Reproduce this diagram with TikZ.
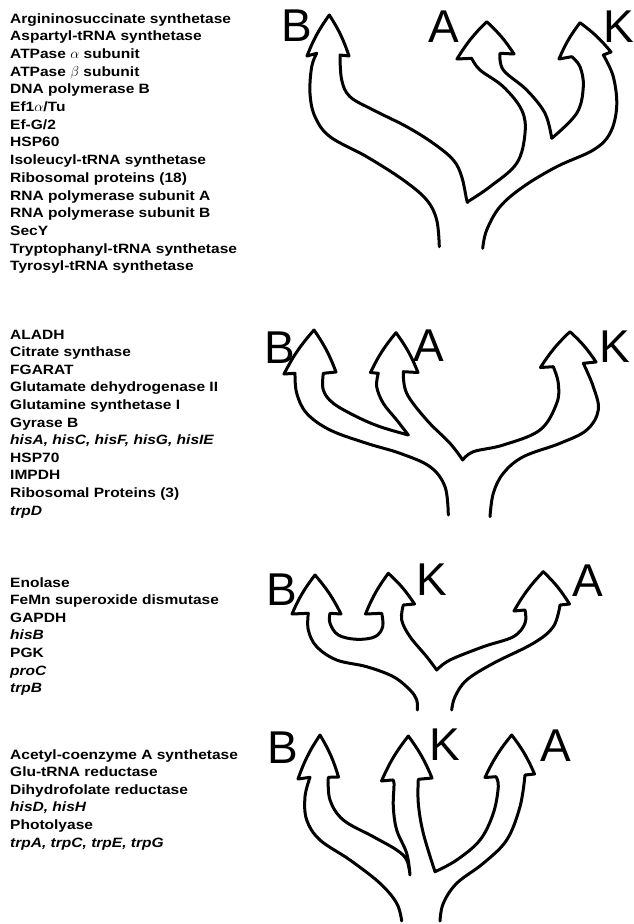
\documentclass[tikz,border=0pt]{standalone}
\usepackage{fontspec}
\setmainfont{Liberation Sans}
\newfontfamily\listfont[FakeStretch=1.15]{Liberation Sans}
\tikzset{
  lst/.style={anchor=base west, inner sep=0pt, font=\listfont\bfseries\fontsize{13.5}{16}\selectfont},
  lbl/.style={inner sep=0pt, font=\fontsize{46}{50}\selectfont},
  br/.style={line width=3pt, line join=round, line cap=round},
  sm/.style={smooth, tension=0.6},
  cv/.style={bend left=7}
}
\begin{document}
\begin{tikzpicture}[x=1pt,y=-1pt]
\useasboundingbox[fill=white] (0,0) rectangle (634,924);

% ---------- lists ----------
\foreach \t [count=\i from 0] in {Argininosuccinate synthetase, Aspartyl-tRNA synthetase, ATPase $\alpha$ subunit, ATPase $\beta$ subunit, DNA polymerase B, Ef1$\alpha$/Tu, Ef-G/2, HSP60, Isoleucyl-tRNA synthetase, Ribosomal proteins (18), RNA polymerase subunit A, RNA polymerase subunit B, SecY, Tryptophanyl-tRNA synthetase, Tyrosyl-tRNA synthetase}
  \node[lst] (la\i) at (10,{23+\i*17.7}) {\t};

\foreach \t [count=\i from 0] in {ALADH, Citrate synthase, FGARAT, Glutamate dehydrogenase II, Glutamine synthetase I, Gyrase B, {\textit{hisA, hisC, hisF, hisG, hisIE}}, HSP70, IMPDH, Ribosomal Proteins (3), \textit{trpD}}
  \node[lst] (lb\i) at (10,{339+\i*17.6}) {\t};

\foreach \t [count=\i from 0] in {Enolase, FeMn superoxide dismutase, GAPDH, \textit{hisB}, PGK, \textit{proC}, \textit{trpB}}
  \node[lst] (lc\i) at (10,{587+\i*17.6}) {\t};

\foreach \t [count=\i from 0] in {Acetyl-coenzyme A synthetase, Glu-tRNA reductase, Dihydrofolate reductase, {\textit{hisD, hisH}}, Photolyase, {\textit{trpA, trpC, trpE, trpG}}}
  \node[lst] (ld\i) at (10,{759+\i*17.6}) {\t};

% ---------- tree 1 ----------
\node[lbl] (t1B) at (297,26) {B};
\node[lbl] (t1A) at (444,27) {A};
\node[lbl] (t1K) at (619,27) {K};
\draw[br] plot[sm] coordinates {(439.3,246.7) (436.7,220) (426.7,200) (403.3,180) (366.7,156.7) (330,136.7) (315,116.7) (310,93.3) (311.7,66.7) (316.7,53.3)}
  -- (307,56) to[cv] (329.3,15) to[cv] (349,56) -- (340,55)
  -- plot[sm] coordinates {(340,55) (341.7,80) (350,96.7) (373.3,110) (406.7,126.7) (433.3,143.3) (453.3,160) (461.7,176.7) (466.7,200) (467.7,201.7)}
  -- plot[sm] coordinates {(467.7,201.7) (490,186.7) (516.7,163.3) (525,133.3) (521.7,110) (503.3,86.7) (480,70) (471.7,58.3)}
  -- (457,59) to[cv] (486.7,21.7) to[cv] (514,54) -- (500,53.3)
  -- plot[sm] coordinates {(500,53.3) (503.3,70) (526.7,90) (545,113.3) (551.7,138.3)}
  -- plot[sm] coordinates {(551.7,138.3) (576.7,113.3) (583.3,86.7) (580,66.7) (571.7,56.7)}
  -- (559,59) to[cv] (580,22.7) to[cv] (611,52) -- (603.3,55)
  -- plot[sm] coordinates {(603.3,55) (613.3,76.7) (616.7,106.7) (610,133.3) (593.3,150) (556.7,166.7) (523.3,186.7) (500,206.7) (486.7,230) (482.7,248.3)};

% ---------- tree 2 ----------
\node[lbl] (t2B) at (280,348) {B};
\node[lbl] (t2A) at (429,346) {A};
\node[lbl] (t2K) at (615,347) {K};
\draw[br] plot[sm] coordinates {(448.3,515) (445,486.7) (430,466.7) (400,453.3) (366.7,443.3) (330,430) (306.7,413.3) (296.7,393.3) (295,373.3)}
  -- (284,374) to[cv] (314,330) to[cv] (336,372) -- (323.3,373.3)
  -- plot[sm] coordinates {(323.3,373.3) (323.3,390) (333.3,403.3) (356.7,416.7) (380,426.7) (408.3,435)}
  -- plot[sm] coordinates {(408.3,435) (396.7,420) (383.3,403.3) (376.7,386.7) (378.3,373.3)}
  -- (370.5,372.5) to[cv] (396,332.7) to[cv] (418,372.5) -- (403.3,371.7)
  -- plot[sm] coordinates {(403.3,371.7) (406.7,393.3) (426.7,420) (450,443.3) (462.7,460)}
  -- plot[sm] coordinates {(462.7,460) (473.3,451.7) (503.3,445) (540,430) (556.7,403.3) (558.3,383.3) (553.3,366.7)}
  -- (540.5,367.5) to[cv] (570,331.7) to[cv] (596,362) -- (583.3,363.3)
  -- plot[sm] coordinates {(583.3,363.3) (593.3,386.7) (598.3,410) (586.7,430) (560,443.3) (523.3,456.7) (503.3,473.3) (493.3,493.3) (490,516.7)};

% ---------- tree 3 ----------
\node[lbl] (t3B) at (282,590) {B};
\node[lbl] (t3K) at (432,580) {K};
\node[lbl] (t3A) at (588,581) {A};
\draw[br] plot[sm] coordinates {(417.3,710) (416.7,700) (410,690) (393.3,676.7) (366.7,666.7) (336.7,660) (316.7,646.7) (308.3,630) (308.3,613.3)}
  -- (292,614) to[cv] (315,575) to[cv] (341,614) -- (330,613.3)
  -- plot[sm] coordinates {(330,613.3) (330,623.3) (338.3,635) (356.7,639.3) (375,636.7) (382.7,626.7) (381.7,613.3)}
  -- (365.5,614) to[cv] (388.3,573.3) to[cv] (414.5,604) -- (403.3,605)
  -- plot[sm] coordinates {(403.3,605) (401.7,620) (410,636.7) (426.7,656.7) (436.7,670)}
  -- plot[sm] coordinates {(436.7,670) (450,660) (483.3,646.7) (513.3,636.7) (525,623.3) (525,610)}
  -- (514,611) to[cv] (543.3,571.7) to[cv] (569.5,604) -- (560,605)
  -- plot[sm] coordinates {(560,605) (553.3,626.7) (533.3,643.3) (493.3,663.3) (466.7,680) (455,696.7) (451.7,710)};

% ---------- tree 4 ----------
\node[lbl] (t4B) at (283,748) {B};
\node[lbl] (t4K) at (445,745) {K};
\node[lbl] (t4A) at (556,746) {A};
\draw[br] plot[sm] coordinates {(401.7,921) (396.7,903.3) (380,883.3) (350,860) (320,840) (306.7,820) (305,796.7) (310,777.3)}
  -- (298,779) to[cv] (320,735) to[cv] (338.5,777) -- (328.3,777.3)
  -- plot[sm] coordinates {(328.3,777.3) (330,800) (343.3,820) (373.3,836.7) (396.7,850) (406.7,860) (410,875)}
  -- plot[sm] coordinates {(410,875) (406.7,853.3) (396.7,830) (393.3,806.7) (394,783.3) (391.7,780)}
  -- (381.5,781) to[cv] (408.3,736) to[cv] (432,778) -- (418.3,779.3)
  -- plot[sm] coordinates {(418.3,779.3) (418.3,803.3) (423.3,833.3) (435,871.7)}
  -- plot[sm] coordinates {(435,871.7) (456.7,860) (480,840) (493.3,813.3) (498.3,786.7) (496,776.7)}
  -- (485,777.5) to[cv] (511.7,735) to[cv] (534.5,774) -- (525,775)
  -- plot[sm] coordinates {(525,775) (520,806.7) (506.7,840) (483.3,863.3) (456.7,883.3) (443.3,903.3) (440,921)};
\end{tikzpicture}
\end{document}
